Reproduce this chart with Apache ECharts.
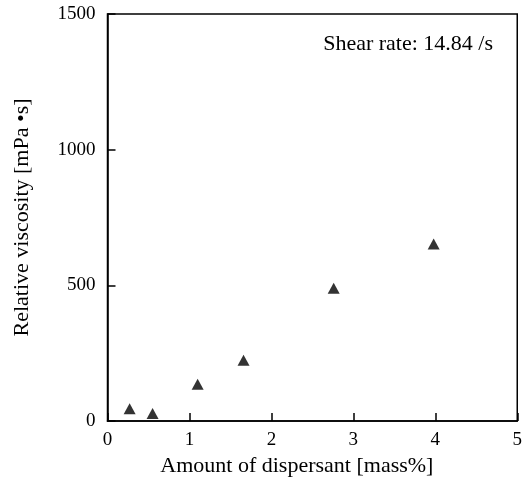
<!DOCTYPE html>
<html><head><meta charset="utf-8">
<script src="https://cdn.jsdelivr.net/npm/echarts@6/dist/echarts.min.js"></script>
<style>html,body{margin:0;padding:0;background:#fff}#c{width:525px;height:490px}</style>
</head><body><div id="c"></div>
<script>
var dispersant = [0.27, 0.55, 1.10, 1.66, 2.76, 3.98];
var viscosity = [45, 28, 135, 224, 489, 652];
var xTicks = [0, 1, 2, 3, 4, 5];
var yTicks = [0, 500, 1000, 1500];
var ff = '"Liberation Serif","Times New Roman",serif';
var chart = echarts.init(document.getElementById('c'), null, {renderer:'canvas'});
chart.setOption({
  animation:false,
  backgroundColor:'#fff',
  grid:{left:107.5,right:5,top:14,bottom:69,show:true,borderColor:'#000',borderWidth:1.5,containLabel:false},
  title:{text:'Shear rate: 14.84 /s',right:27,top:28,textStyle:{fontFamily:ff,fontWeight:'normal',fontSize:22,color:'#000'}},
  xAxis:{type:'value',min:0,max:5,interval:1,
    name:'Amount of dispersant [mass%]',nameLocation:'middle',nameGap:34,
    nameTextStyle:{fontFamily:ff,fontSize:22,color:'#000',padding:[0,31,0,0]},
    axisLine:{lineStyle:{color:'#000',width:1.5}},
    axisTick:{inside:true,length:8,lineStyle:{color:'#000',width:1.5}},
    axisLabel:{fontFamily:ff,fontSize:19,color:'#000',margin:10,formatter:function(v){return xTicks.indexOf(v)>=0?String(v):'';}},
    splitLine:{show:false}},
  yAxis:{type:'value',min:0,max:1500,interval:500,
    name:'Relative viscosity [mPa \u2022s]',nameLocation:'middle',nameGap:74,
    nameTextStyle:{fontFamily:ff,fontSize:22,color:'#000'},
    axisLine:{lineStyle:{color:'#000',width:1.5}},
    axisTick:{inside:true,length:8,lineStyle:{color:'#000',width:1.5}},
    axisLabel:{fontFamily:ff,fontSize:19,color:'#000',margin:12,formatter:function(v){return yTicks.indexOf(v)>=0?String(v):'';}},
    splitLine:{show:false}},
  series:[{type:'scatter',symbol:'triangle',symbolSize:[12,11],
    itemStyle:{color:'#000'},
    data:dispersant.map(function(x,i){return [x,viscosity[i]];})}]
});
</script></body></html>
